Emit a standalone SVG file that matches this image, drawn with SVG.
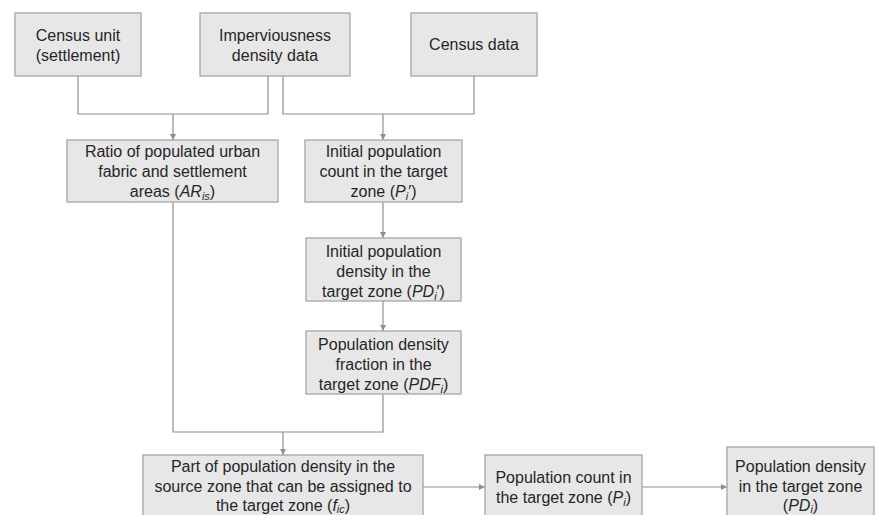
<svg xmlns="http://www.w3.org/2000/svg" width="878" height="515" viewBox="0 0 878 515">
<style>
.box{fill:#e7e7e7;stroke:#a5a5a5;stroke-width:1.3}
.t{font-family:"Liberation Sans",Arial,sans-serif;font-size:16px;fill:#262626;text-anchor:middle}
.c{fill:none;stroke:#8f8f8f;stroke-width:1.2}
.s{font-size:11px}
</style>
<defs>
<marker id="ah" viewBox="0 0 8 8" refX="8" refY="4" markerWidth="6" markerHeight="6" markerUnits="userSpaceOnUse" orient="auto">
<path d="M0,0 L8,4 L0,8 Z" fill="#8f8f8f"/>
</marker>
</defs>
<rect width="878" height="515" fill="#fff"/>
<g id="connectors">
<path class="c" d="M78,76 V114 H268 V76"/>
<path class="c" d="M173,114 V140" marker-end="url(#ah)"/>
<path class="c" d="M283,76 V114 H474 V76"/>
<path class="c" d="M383,114 V140" marker-end="url(#ah)"/>
<path class="c" d="M383,202 V238" marker-end="url(#ah)"/>
<path class="c" d="M383,301 V331" marker-end="url(#ah)"/>
<path class="c" d="M173,202 V432 H383 V394"/>
<path class="c" d="M283,432 V455" marker-end="url(#ah)"/>
<path class="c" d="M423,487 H485" marker-end="url(#ah)"/>
<path class="c" d="M642,487 H727" marker-end="url(#ah)"/>
</g>
<g id="census-unit">
<rect class="box" x="15" y="13" width="126" height="63"/>
<text class="t" x="78" y="41">Census unit</text>
<text class="t" x="78" y="61">(settlement)</text>
</g>
<g id="imperviousness">
<rect class="box" x="200" y="13" width="150" height="63"/>
<text class="t" x="275" y="41">Imperviousness</text>
<text class="t" x="275" y="61">density data</text>
</g>
<g id="census-data">
<rect class="box" x="411" y="13" width="126" height="63"/>
<text class="t" x="474" y="50">Census data</text>
</g>
<g id="ratio">
<rect class="box" x="67" y="140" width="211" height="62"/>
<text class="t" x="172.5" y="157">Ratio of populated urban</text>
<text class="t" x="172.5" y="177">fabric and settlement</text>
<text class="t" x="172.5" y="197">areas (<tspan font-style="italic">AR</tspan><tspan class="s" font-style="italic" dy="3">is</tspan><tspan dy="-3">)</tspan></text>
</g>
<g id="initial-count">
<rect class="box" x="305" y="140" width="157" height="62"/>
<text class="t" x="383.5" y="157">Initial population</text>
<text class="t" x="383.5" y="177">count in the target</text>
<text class="t" x="383.5" y="197">zone (<tspan font-style="italic">P</tspan><tspan class="s" font-style="italic" dy="3">i</tspan><tspan dy="-3">′)</tspan></text>
</g>
<g id="initial-density">
<rect class="box" x="306" y="238" width="155" height="63"/>
<text class="t" x="383.5" y="257">Initial population</text>
<text class="t" x="383.5" y="277">density in the</text>
<text class="t" x="383.5" y="297">target zone (<tspan font-style="italic">PD</tspan><tspan class="s" font-style="italic" dy="3">i</tspan><tspan dy="-3">′)</tspan></text>
</g>
<g id="density-fraction">
<rect class="box" x="306" y="331" width="155" height="63"/>
<text class="t" x="383.5" y="350">Population density</text>
<text class="t" x="383.5" y="370">fraction in the</text>
<text class="t" x="383.5" y="390">target zone (<tspan font-style="italic">PDF</tspan><tspan class="s" font-style="italic" dy="3">i</tspan><tspan dy="-3">)</tspan></text>
</g>
<g id="part-density">
<rect class="box" x="143" y="455" width="280" height="80"/>
<text class="t" x="283" y="472">Part of population density in the</text>
<text class="t" x="283" y="492">source zone that can be assigned to</text>
<text class="t" x="283" y="511">the target zone (<tspan font-style="italic">f</tspan><tspan class="s" font-style="italic" dy="2">ic</tspan><tspan dy="-2">)</tspan></text>
</g>
<g id="pop-count">
<rect class="box" x="485" y="455" width="157" height="80"/>
<text class="t" x="563.5" y="483">Population count in</text>
<text class="t" x="563.5" y="503">the target zone (<tspan font-style="italic">P</tspan><tspan class="s" font-style="italic" dy="3">i</tspan><tspan dy="-3">)</tspan></text>
</g>
<g id="pop-density">
<rect class="box" x="727" y="447" width="147" height="88"/>
<text class="t" x="800.5" y="472">Population density</text>
<text class="t" x="800.5" y="492">in the target zone</text>
<text class="t" x="800.5" y="511">(<tspan font-style="italic">PD</tspan><tspan class="s" font-style="italic" dy="2">i</tspan><tspan dy="-2">)</tspan></text>
</g>
</svg>
